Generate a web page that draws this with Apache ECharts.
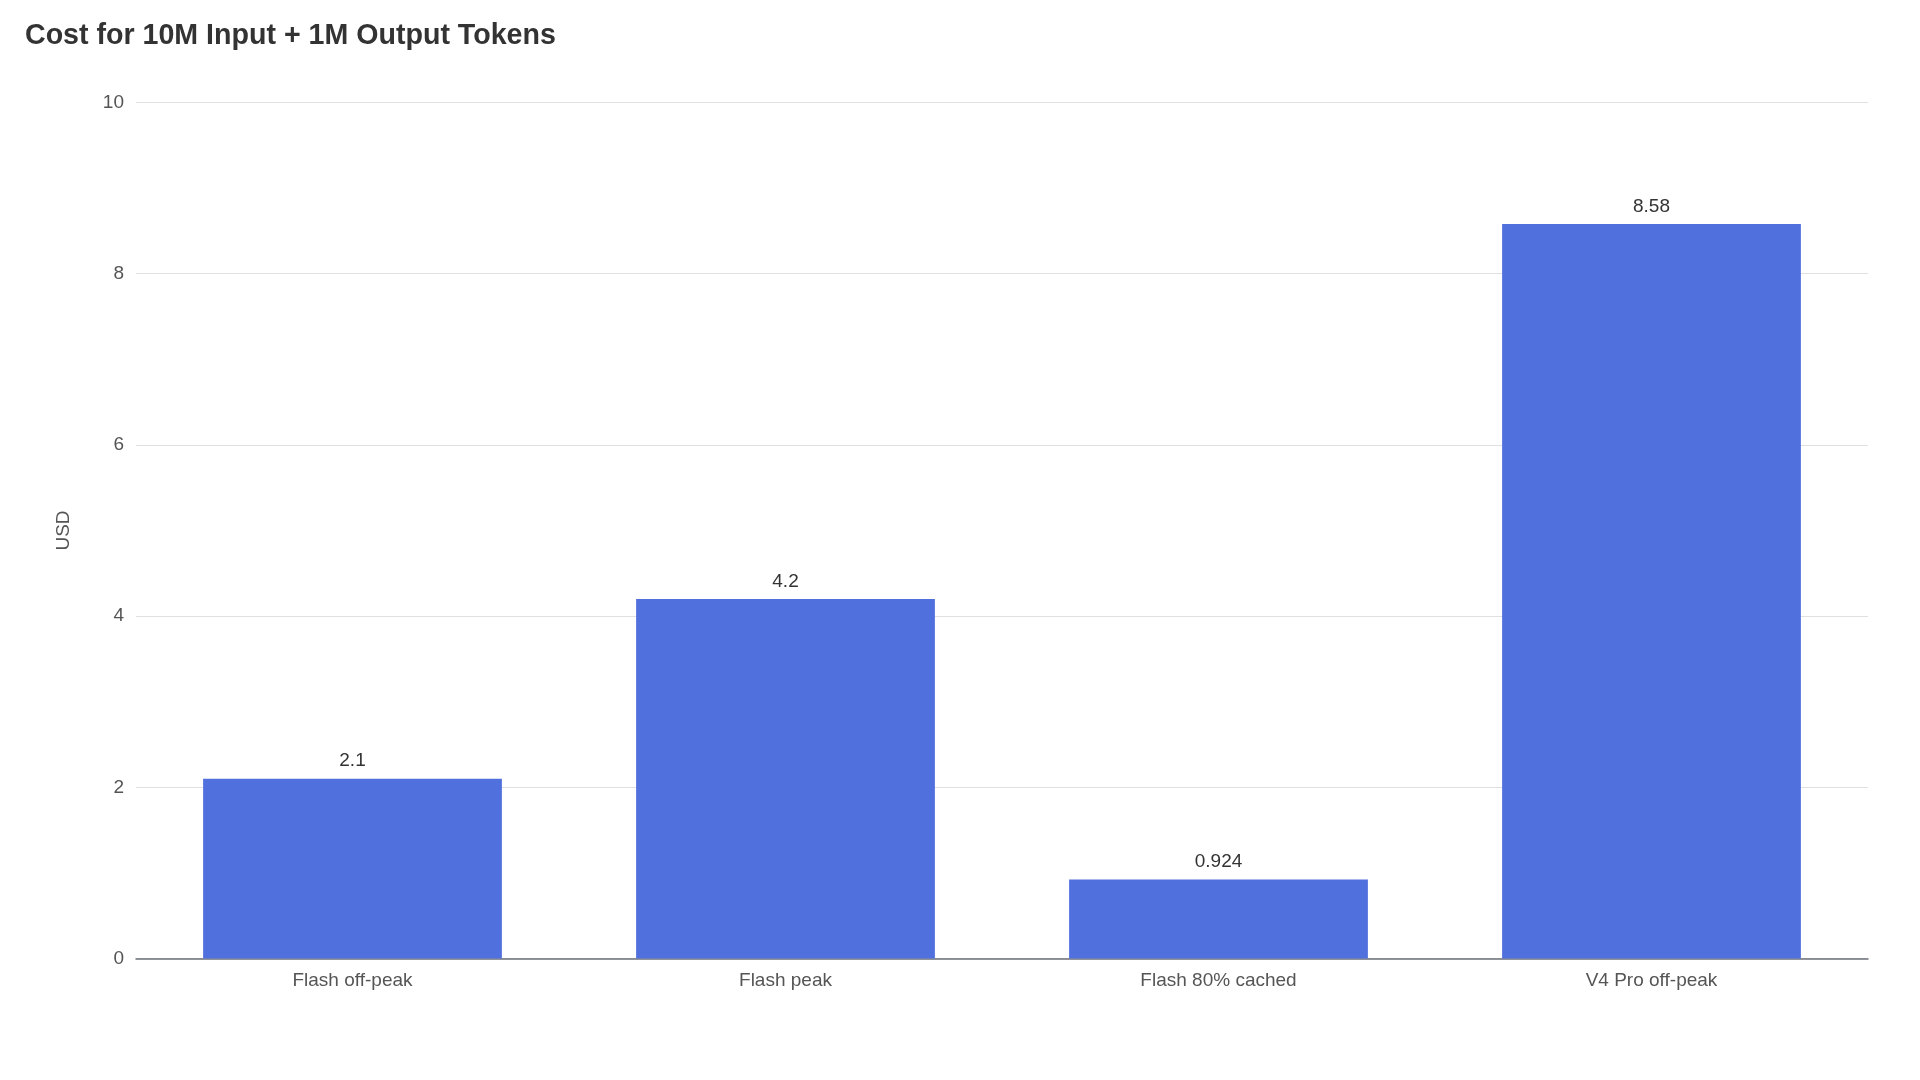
<!DOCTYPE html>
<html>
<head>
<meta charset="utf-8">
<script src="https://cdn.jsdelivr.net/npm/echarts@6/dist/echarts.min.js"></script>
<style>
html,body{margin:0;padding:0;background:#fff;}
#chart{width:1920px;height:1080px;}
</style>
</head>
<body>
<div id="chart"></div>
<script>
const titleText = 'Cost for 10M Input + 1M Output Tokens';
const categories = ['Flash off-peak', 'Flash peak', 'Flash 80% cached', 'V4 Pro off-peak'];
const costs = [2.1, 4.2, 0.924, 8.58];
const yAxisName = 'USD';

const chart = echarts.init(document.getElementById('chart'), null, {renderer: 'canvas'});
chart.setOption({
  backgroundColor: '#ffffff',
  animation: false,
  title: {
    text: titleText,
    left: 20,
    top: 17,
    textStyle: {fontFamily: 'Liberation Sans', fontSize: 28.6, fontWeight: 'bold', color: '#333333'}
  },
  grid: {left: 136, right: 52, top: 102.5, bottom: 121.5, containLabel: false},
  xAxis: {
    type: 'category',
    data: categories,
    axisTick: {show: false},
    axisLine: {lineStyle: {color: '#6e7079', width: 1.5}},
    axisLabel: {fontFamily: 'Liberation Sans', fontSize: 19, color: '#555555', margin: 13}
  },
  yAxis: {
    type: 'value',
    min: 0, max: 10, interval: 2,
    name: yAxisName,
    nameLocation: 'middle',
    nameGap: 63,
    nameTextStyle: {fontFamily: 'Liberation Sans', fontSize: 19, color: '#555555'},
    axisLabel: {fontFamily: 'Liberation Sans', fontSize: 19, color: '#555555', margin: 12},
    splitLine: {lineStyle: {color: '#e0e0e0', width: 1}}
  },
  series: [{
    type: 'bar',
    data: costs,
    barWidth: '69%',
    itemStyle: {color: '#5070dd'},
    label: {
      show: true, position: 'top', distance: 8,
      fontFamily: 'Liberation Sans', fontSize: 19, color: '#333333'
    }
  }]
});
</script>
</body>
</html>
